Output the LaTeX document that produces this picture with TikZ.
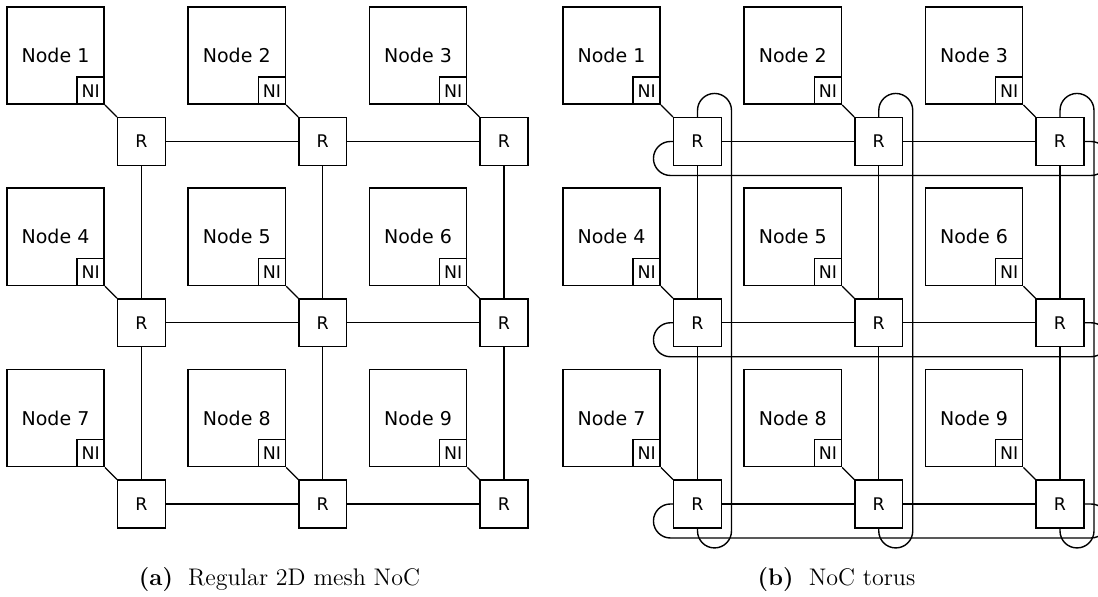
\documentclass[tikz,border=0pt]{standalone}
\usepackage{fontspec}
\setsansfont{DejaVu Sans}
\usetikzlibrary{positioning}

\tikzset{
  pe/.style={draw, line width=0.75pt, minimum size=48.7pt, inner sep=0pt,
    font=\sffamily\fontsize{9.5}{11}\selectfont},
  ni/.style={draw, line width=0.75pt, minimum size=13.5pt, inner sep=0pt,
    font=\sffamily\fontsize{8.7}{10}\selectfont},
  router/.style={draw, line width=0.75pt, minimum size=23.8pt, inner sep=0pt,
    font=\sffamily\fontsize{8.7}{10}\selectfont},
  link/.style={line width=0.55pt},
  wrap/.style={line width=0.7pt},
  caption/.style={anchor=base, font=\rmfamily\fontsize{12}{14}\selectfont},
}

\begin{document}
\begin{tikzpicture}[x=0.5pt, y=-0.5pt]
  % 영역
  \useasboundingbox (0,0) rectangle (1098,597);
  \clip (0,0) rectangle (1098,597);
  % 노드, NI, 라우터
  \foreach \p/\ox in {a/0, b/556} {
    \foreach \r in {1,2,3} {
      \foreach \c in {1,2,3} {
        \pgfmathsetmacro{\cx}{\ox+141.5+181.25*(\c-1)}
        \pgfmathsetmacro{\cy}{141.5+181.25*(\r-1)}
        \pgfmathtruncatemacro{\k}{3*(\r-1)+\c}
        \node[pe] (\p-n\k) at (\cx-86,\cy-86) {Node \k};
        \node[ni, anchor=south east] (\p-ni\k) at (\p-n\k.south east) {NI};
        \node[router] (\p-r\c\r) at (\cx,\cy) {R};
        \draw[link] (\p-ni\k.south east) -- (\p-r\c\r.north west);
      }
    }
  }
  % 메시 링크
  \foreach \p in {a,b} {
    \foreach \i/\j in {1/2,2/3} {
      \foreach \k in {1,2,3} {
        \draw[link] (\p-r\i\k) -- (\p-r\j\k);
        \draw[link] (\p-r\k\i) -- (\p-r\k\j);
      }
    }
  }
  % 토러스 링크
  \foreach \k in {1,2,3} {
    \draw[wrap] (b-r1\k.west) -- ++(-2.5,0)
      arc[start angle=-90, end angle=-270, radius=17] -- ++(420.5,0)
      arc[start angle=90, end angle=-90, radius=17] -- (b-r3\k.east);
    \draw[wrap] (b-r\k1.north) -- ++(0,-6.5)
      arc[start angle=180, end angle=360, radius=17] -- ++(0,420.5)
      arc[start angle=0, end angle=180, radius=17] -- (b-r\k3.south);
  }
  % 캡션
  \node[caption] (capa) at (279.5,586) {\textbf{(a)}\hspace{0.3em} Regular 2D mesh NoC};
  \node[caption] (capb) at (836.5,586) {\textbf{(b)}\hspace{0.3em} NoC torus};
\end{tikzpicture}
\end{document}
